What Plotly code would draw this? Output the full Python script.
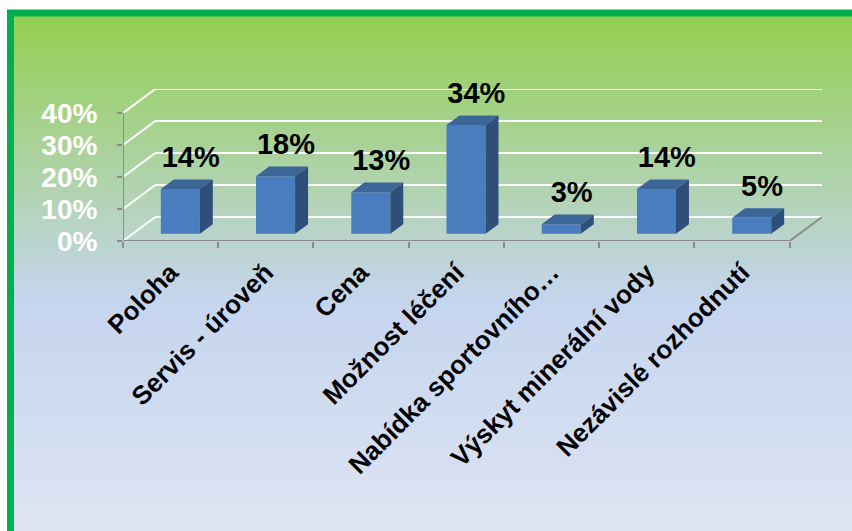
import plotly.graph_objects as go

categories = ["Poloha", "Servis - úroveň", "Cena", "Možnost léčení",
              "Nabídka sportovního…", "Výskyt minerální vody", "Nezávislé rozhodnutí"]
values = [14, 18, 13, 34, 3, 14, 5]
y_ticks = [0, 10, 20, 30, 40]
y_tick_text = ["0%", "10%", "20%", "30%", "40%"]

# 3D projection parameters (in data units)
DX, DY = 0.34, 7.5
D0, D1 = 0.30, 0.70
W = 0.41

FRONT = "#4A7DBD"
TOP = "#3C6598"
SIDE = "#2E4F7A"
GRID = "#FFFFFF"
AXIS = "#8C8C8C"
FONT = "Liberation Sans, Arial, sans-serif"

W_PX, H_PX = 852, 531
L, T = 123, 89
plot_w, plot_h = 699, 152
R = W_PX - L - plot_w
B = H_PX - T - plot_h

n = len(categories)
xmin, xmax = -0.5, n - 0.5 + DX
ymin, ymax = 0, max(y_ticks) + DY

fig = go.Figure()

# bar front faces
fig.add_trace(go.Bar(x=[i + D0 * DX for i in range(n)], y=values,
                     base=[D0 * DY] * n, width=W, marker=dict(color=FRONT, line=dict(width=0)),
                     showlegend=False, cliponaxis=False, hoverinfo="skip"))

# bar top and side faces
for i, v in enumerate(values):
    xl, xr = i - W / 2, i + W / 2
    fig.add_trace(go.Scatter(
        x=[xl + D0 * DX, xr + D0 * DX, xr + D1 * DX, xl + D1 * DX, xl + D0 * DX],
        y=[v + D0 * DY, v + D0 * DY, v + D1 * DY, v + D1 * DY, v + D0 * DY],
        fill="toself", fillcolor=TOP, mode="lines", line=dict(width=0, color=TOP),
        hoverinfo="skip", showlegend=False, cliponaxis=False))
    fig.add_trace(go.Scatter(
        x=[xr + D0 * DX, xr + D0 * DX, xr + D1 * DX, xr + D1 * DX, xr + D0 * DX],
        y=[D0 * DY, v + D0 * DY, v + D1 * DY, D1 * DY, D0 * DY],
        fill="toself", fillcolor=SIDE, mode="lines", line=dict(width=0, color=SIDE),
        hoverinfo="skip", showlegend=False, cliponaxis=False))

# data labels
fig.add_trace(go.Scatter(
    x=[i + 0.62 * DX for i in range(n)], y=[v + D1 * DY + 1.6 for v in values],
    mode="text", text=[f"{v}%" for v in values], textposition="top center",
    textfont=dict(family=FONT, size=29, color="black", weight="bold"),
    hoverinfo="skip", showlegend=False, cliponaxis=False))

# background gradient (stripes in paper coordinates)
def lerp(c1, c2, t):
    return tuple(round(a + (b - a) * t) for a, b in zip(c1, c2))

stops = [(16, (146, 208, 80)), (300, (197, 213, 238)), (531, (222, 228, 243))]

def color_at(py):
    for (y1, c1), (y2, c2) in zip(stops, stops[1:]):
        if py <= y2:
            t = max(0.0, (py - y1) / (y2 - y1))
            return lerp(c1, c2, t)
    return stops[-1][1]

def px_to_paper_x(px):
    return (px - L) / plot_w

def px_to_paper_y(py):
    return (H_PX - B - py) / plot_h

shapes = []
step = 3
for py in range(16, H_PX + step, step):
    c = color_at(py + step / 2)
    shapes.append(dict(type="rect", xref="paper", yref="paper", layer="below",
                       x0=px_to_paper_x(10), x1=px_to_paper_x(W_PX + 20),
                       y0=px_to_paper_y(py), y1=px_to_paper_y(py + step + 0.5),
                       fillcolor=f"rgb{c}", line=dict(width=0)))
# green border
shapes.append(dict(type="rect", xref="paper", yref="paper", layer="below",
                   x0=px_to_paper_x(10.5), x1=px_to_paper_x(W_PX + 30),
                   y0=px_to_paper_y(13), y1=px_to_paper_y(H_PX + 30),
                   fillcolor="rgba(0,0,0,0)", line=dict(color="#00B050", width=7)))

# back wall gridlines and left wall diagonals (data coordinates, below the bars)
for v in y_ticks:
    shapes.append(dict(type="line", xref="x", yref="y", layer="below",
                       x0=xmin, y0=v, x1=xmin + DX, y1=v + DY,
                       line=dict(color=GRID, width=2)))
    shapes.append(dict(type="line", xref="x", yref="y", layer="below",
                       x0=xmin + DX, y0=v + DY, x1=n - 0.5 + DX, y1=v + DY,
                       line=dict(color=GRID, width=2)))
# right floor edge and front axes
shapes.append(dict(type="line", xref="x", yref="y", layer="below",
                   x0=n - 0.5, y0=0, x1=n - 0.5 + DX, y1=DY,
                   line=dict(color=AXIS, width=2)))
shapes.append(dict(type="line", xref="x", yref="y", layer="below",
                   x0=-0.5, y0=0, x1=n - 0.5, y1=0, line=dict(color=AXIS, width=2)))
shapes.append(dict(type="line", xref="x", yref="y", layer="below",
                   x0=-0.5, y0=0, x1=-0.5, y1=max(y_ticks), line=dict(color=AXIS, width=2)))

fig.update_layout(
    width=W_PX, height=H_PX,
    margin=dict(l=L, r=R, t=T, b=B, autoexpand=False),
    paper_bgcolor="white", plot_bgcolor="rgba(0,0,0,0)",
    shapes=shapes, barmode="overlay", showlegend=False,
    xaxis=dict(range=[xmin, xmax], tickvals=list(range(n)), ticktext=categories,
               tickangle=-45, ticks="", showgrid=False, zeroline=False, showline=False,
               tickfont=dict(family=FONT, size=26, color="black", weight="bold"),
               ticklabelstandoff=10,
               minor=dict(tickvals=[i - 0.5 for i in range(n + 1)], ticks="outside",
                          ticklen=6, tickwidth=2, tickcolor=AXIS, showgrid=False),
               fixedrange=True),
    yaxis=dict(range=[ymin, ymax], tickvals=y_ticks, ticktext=y_tick_text,
               ticks="outside", ticklen=5, tickwidth=2, tickcolor=AXIS,
               showgrid=False, zeroline=False, showline=False,
               tickfont=dict(family=FONT, size=28, color="white", weight="bold"),
               ticklabelstandoff=14, fixedrange=True),
)

fig.write_html("out.html", config={"displayModeBar": False},
               post_script="document.body.style.margin='0';"
                           "document.body.style.overflow='hidden';")
